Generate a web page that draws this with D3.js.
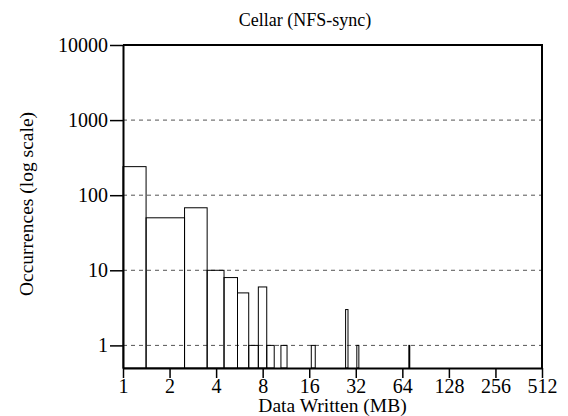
<!DOCTYPE html>
<html>
<head>
<meta charset="utf-8">
<script src="https://cdn.jsdelivr.net/npm/d3@7"></script>
<style>
  body { margin: 0; background: #fff; }
  svg text { font-family: "Liberation Serif", "Times New Roman", serif; fill: #000; }
</style>
</head>
<body>
<svg id="chart" width="568" height="416"></svg>
<script>
// histogram bins (MB) and counts
const binStart = [1, 1.41, 2.5, 3.5, 4.5, 5.5, 6.5, 7.5, 8.5, 10.5, 16.5, 27.5, 32.5, 70.5];
const binEnd   = [1.41, 2.5, 3.5, 4.5, 5.5, 6.5, 7.5, 8.5, 9.5, 11.5, 17.5, 28.5, 33.5, 71.5];
const counts   = [240, 50, 68, 10, 8, 5, 1, 6, 1, 1, 1, 3, 1, 1];

const xTicks = [1, 2, 4, 8, 16, 32, 64, 128, 256, 512];
const yTicks = [1, 10, 100, 1000, 10000];
const gridTicks = [1, 10, 100, 1000];

const width = 568, height = 416;
const margin = { top: 45, right: 26, bottom: 48, left: 123 };

const svg = d3.select('#chart');

const x = d3.scaleLog().base(2)
  .domain([1, 512])
  .range([margin.left, width - margin.right]);

const y = d3.scaleLog()
  .domain([0.5, 10000])
  .range([height - margin.bottom, margin.top]);

const bins = counts.map((c, i) => ({ lo: binStart[i], hi: binEnd[i], n: c }));

// dashed grid
svg.append('g')
  .selectAll('line')
  .data(gridTicks)
  .join('line')
  .attr('x1', x(1))
  .attr('x2', x(512))
  .attr('y1', d => y(d))
  .attr('y2', d => y(d))
  .attr('stroke', '#555')
  .attr('stroke-width', 1)
  .attr('stroke-dasharray', '4,4');

// bars
svg.append('g')
  .attr('fill', 'none')
  .attr('stroke', '#000')
  .attr('stroke-width', 1)
  .selectAll('rect')
  .data(bins)
  .join('rect')
  .attr('x', d => x(d.lo))
  .attr('y', d => y(d.n))
  .attr('width', d => x(d.hi) - x(d.lo))
  .attr('height', d => y(0.5) - y(d.n));

// frame top + right
svg.append('path')
  .attr('d', `M${x(1)},${y(10000)}H${x(512)}V${y(0.5)}`)
  .attr('fill', 'none')
  .attr('stroke', '#000')
  .attr('stroke-width', 2);

const xAxis = svg.append('g')
  .attr('transform', `translate(0,${y(0.5)})`)
  .call(d3.axisBottom(x)
    .tickValues(xTicks)
    .tickFormat(d3.format('d'))
    .tickSize(10)
    .tickSizeOuter(0)
    .tickPadding(1));

const yAxis = svg.append('g')
  .attr('transform', `translate(${x(1)},0)`)
  .call(d3.axisLeft(y)
    .tickValues(yTicks)
    .tickFormat(d3.format('d'))
    .tickSize(13)
    .tickSizeOuter(0)
    .tickPadding(2));

[xAxis, yAxis].forEach(g => {
  g.attr('font-family', null).attr('font-size', 20);
  g.select('.domain').attr('stroke', '#000').attr('stroke-width', 2);
  g.selectAll('.tick line').attr('stroke', '#000').attr('stroke-width', 1.5);
  g.selectAll('.tick text').attr('fill', '#000').attr('font-size', 20);
});

svg.append('text')
  .attr('x', 305)
  .attr('y', 26)
  .attr('text-anchor', 'middle')
  .attr('font-size', 18)
  .text('Cellar (NFS-sync)');

svg.append('text')
  .attr('x', (x(1) + x(512)) / 2)
  .attr('y', 412)
  .attr('text-anchor', 'middle')
  .attr('font-size', 19.5)
  .text('Data Written (MB)');

svg.append('text')
  .attr('transform', 'translate(33,204) rotate(-90)')
  .attr('text-anchor', 'middle')
  .attr('font-size', 19.5)
  .text('Occurrences (log scale)');
</script>
</body>
</html>
